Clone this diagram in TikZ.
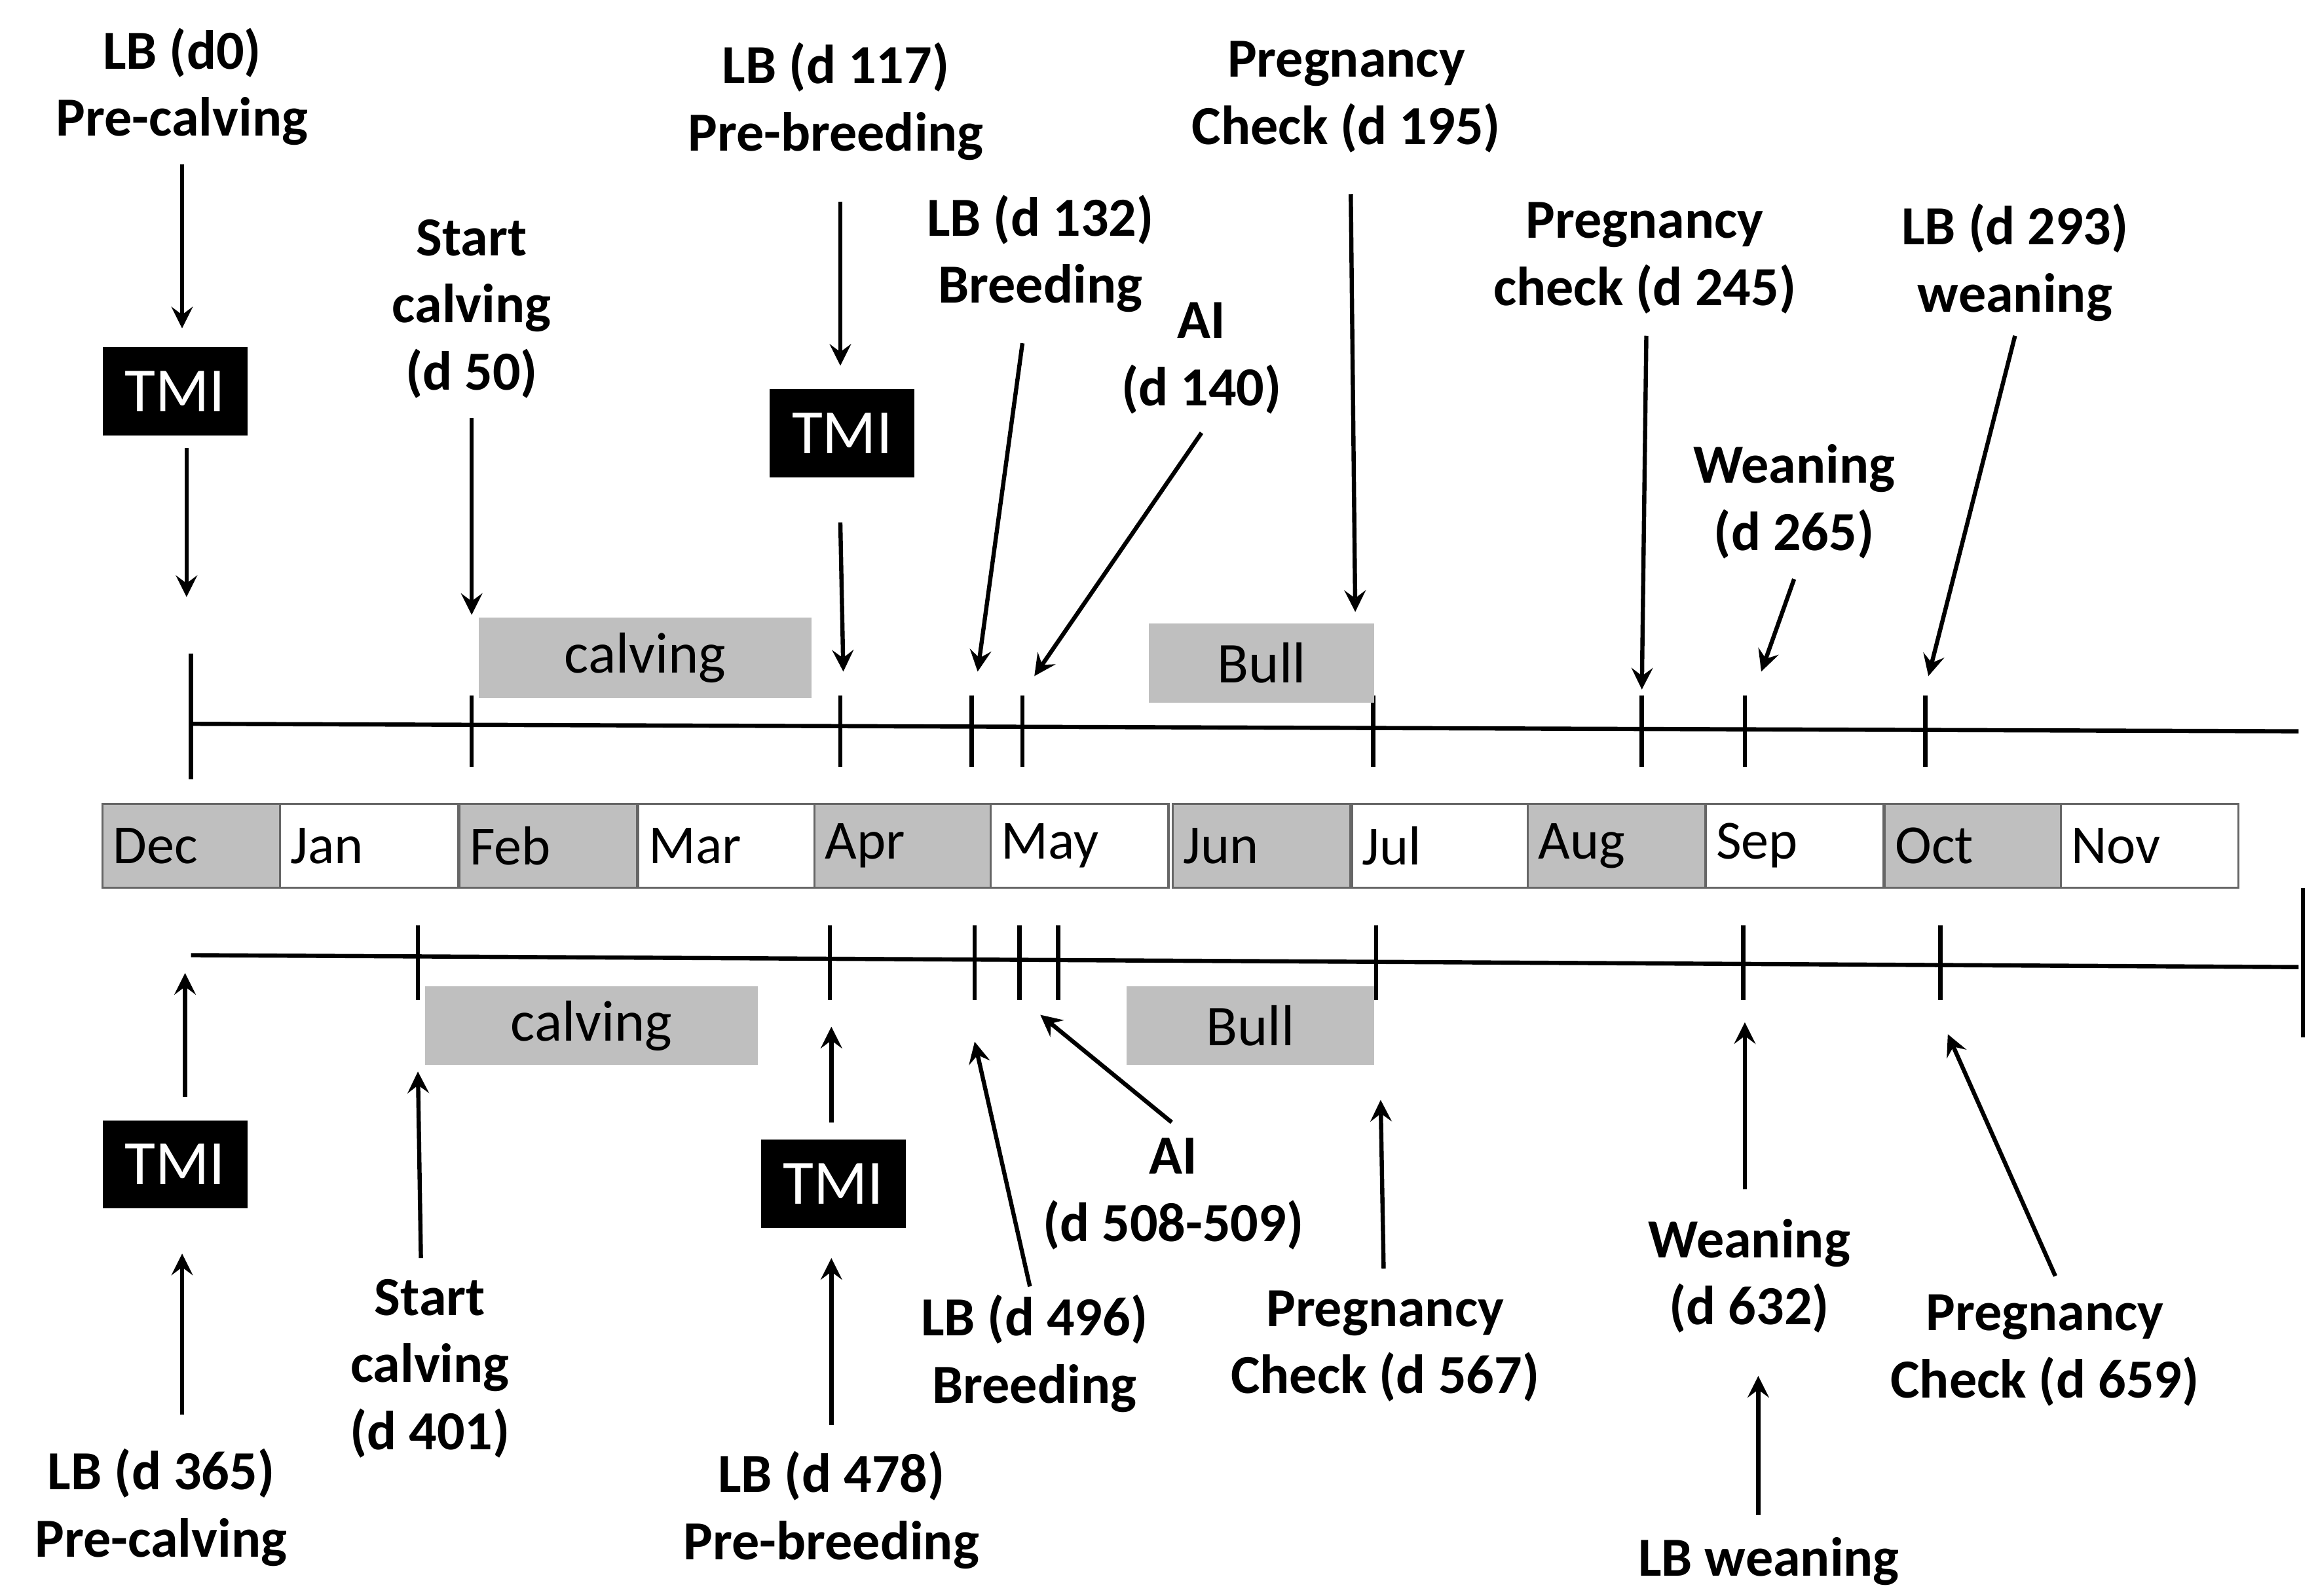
\documentclass[tikz,border=0pt]{standalone}
\usepackage{fontspec}
\setmainfont{Carlito}
\begin{document}
\begin{tikzpicture}[x=0.01cm,y=-0.01cm,
 lab/.style={font=\fontsize{10.5}{12.8}\selectfont\bfseries,align=center,inner sep=0},
 ar/.style={-stealth,line width=0.8pt},
 ln/.style={line width=0.8pt},
 mon/.style={draw=black!60,line width=0.4pt,anchor=north west,minimum width=1.19cm,minimum height=0.56cm,text width=1.05cm,align=left,font=\fontsize{10.5}{12}\selectfont,inner sep=2pt},
 gbox/.style={fill=black!25,anchor=north west,inner sep=0,font=\fontsize{11}{13}\selectfont},
 tmi/.style={fill=black,text=white,anchor=north west,inner sep=0,minimum width=0.97cm,minimum height=0.59cm,font=\fontsize{12}{14}\selectfont}]
\useasboundingbox (0,0) rectangle (1553,1069);
% months
\foreach \n/\x/\c in {Dec/68/black!25,Jan/187/white,Feb/307/black!25,Mar/427/white,Apr/545/black!25,May/663/white,Jun/785/black!25,Jul/905/white,Aug/1023/black!25,Sep/1142/white,Oct/1262/black!25,Nov/1380/white}
  \node[mon,fill=\c] (m\n) at (\x,538) {\n};
% top timeline
\draw[ln] (128,485) coordinate (t0) -- (1540,490) coordinate (t1);
\draw[ln] (128,438) -- (128,522);
\foreach \x in {316,563,651,685,920,1100,1169,1290} \draw[ln] (\x,466) -- (\x,514);
% bottom timeline
\draw[ln] (128,640) coordinate (b0) -- (1540,648) coordinate (b1);
\draw[ln] (1543,595) -- (1543,695);
\foreach \x in {280,556,653,683,709,922,1168,1300} \draw[ln] (\x,620) -- (\x,670);
% gray boxes
\node[gbox,minimum width=2.23cm,minimum height=0.54cm] (cal1) at (320,413) {calving};
\node[gbox,minimum width=1.51cm,minimum height=0.53cm] (bull1) at (769,417) {Bull};
\node[gbox,minimum width=2.23cm,minimum height=0.53cm] (cal2) at (284,660) {calving};
\node[gbox,minimum width=1.66cm,minimum height=0.53cm] (bull2) at (754,660) {Bull};
% TMI
\node[tmi] (tmi1) at (68,232) {TMI};
\node[tmi] (tmi2) at (515,260) {TMI};
\node[tmi] (tmi3) at (68,750) {TMI};
\node[tmi] (tmi4) at (509,763) {TMI};
% top labels
\node[lab] (l1) at (122,58) {LB (d0)\\Pre-calving};
\draw[ar] (122,110) -- (122,220);
\draw[ar] (125,300) -- (125,400);
\node[lab] (l2) at (316,207) {Start\\calving\\(d 50)};
\draw[ar] (316,280) -- (316,412);
\node[lab] (l3) at (560,68) {LB (d 117)\\Pre-breeding};
\draw[ar] (563,135) -- (563,245);
\draw[ar] (563,350) -- (565,450);
\node[lab] (l4) at (697,170) {LB (d 132)\\Breeding};
\draw[ar] (685,230) -- (655,450);
\node[lab] (l5) at (805,240) {AI\\(d 140)};
\draw[ar] (805,290) -- (693,453);
\node[lab] (l6) at (902,65) {Pregnancy\\Check (d 195)};
\draw[ar] (905,130) -- (908,410);
\node[lab] (l7) at (1102,173) {Pregnancy\\check (d 245)};
\draw[ar] (1103,225) -- (1100,462);
\node[lab] (l8) at (1202,336) {Weaning\\(d 265)};
\draw[ar] (1202,388) -- (1180,450);
\node[lab] (l9) at (1350,176) {LB (d 293)\\weaning};
\draw[ar] (1350,225) -- (1292,453);
% bottom labels
\node[lab] (k1) at (108,1010) {LB (d 365)\\Pre-calving};
\draw[ar] (122,948) -- (122,840);
\draw[ar] (124,735) -- (124,652);
\node[lab] (k2) at (288,917) {Start\\calving\\(d 401)};
\draw[ar] (282,843) -- (280,718);
\node[lab] (k3) at (557,1012) {LB (d 478)\\Pre-breeding};
\draw[ar] (557,955) -- (557,843);
\draw[ar] (557,752) -- (557,688);
\node[lab] (k4) at (693,907) {LB (d 496)\\Breeding};
\draw[ar] (690,862) -- (653,698);
\node[lab] (k5) at (786,800) {AI\\(d 508-509)};
\draw[ar] (785,752) -- (697,680);
\node[lab] (k6) at (928,902) {Pregnancy\\Check (d 567)};
\draw[ar] (927,850) -- (925,737);
\node[lab] (k7) at (1172,855) {Weaning\\(d 632)};
\draw[ar] (1169,797) -- (1169,685);
\node[lab] (k8) at (1185,1046) {LB weaning};
\draw[ar] (1178,1015) -- (1178,922);
\node[lab] (k9) at (1370,905) {Pregnancy\\Check (d 659)};
\draw[ar] (1377,855) -- (1305,693);
\end{tikzpicture}
\end{document}
